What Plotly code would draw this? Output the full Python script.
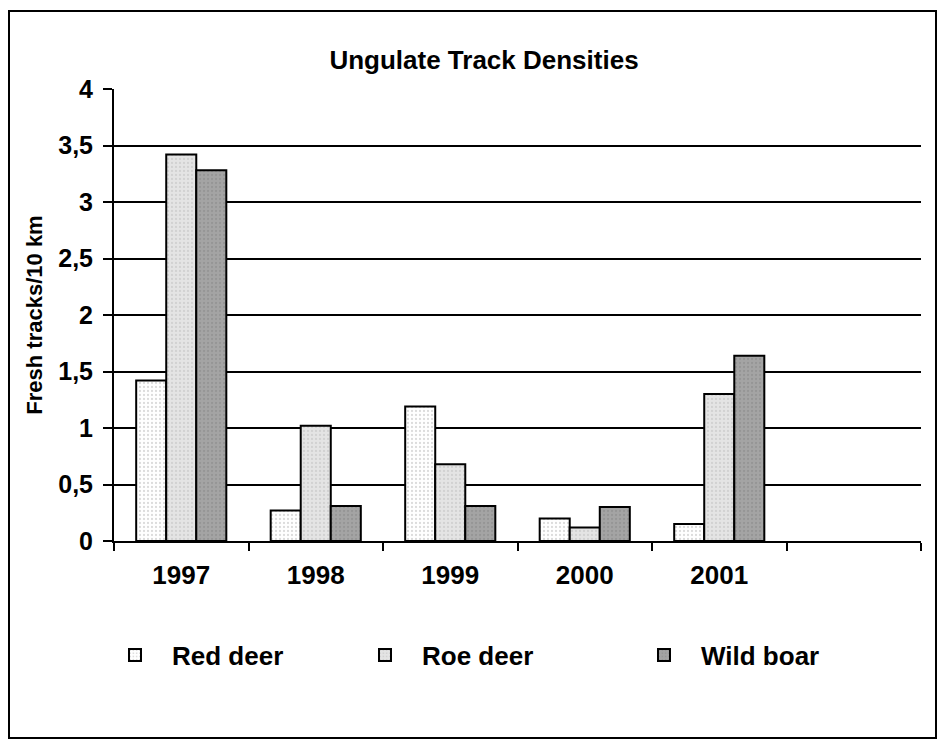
import plotly.graph_objects as go

# categories (last one is an empty slot on the axis)
years = ["1997", "1998", "1999", "2000", "2001"]
axis_cats = years + [" "]

red_deer = [1.42, 0.27, 1.19, 0.20, 0.15]
roe_deer = [3.42, 1.02, 0.68, 0.12, 1.30]
wild_boar = [3.28, 0.31, 0.31, 0.30, 1.64]

series = [
    ("Red deer", red_deer, "#ffffff", "#b8b8b8", "legend"),
    ("Roe deer", roe_deer, "#e4e4e4", "#bdbdbd", "legend2"),
    ("Wild boar", wild_boar, "#a4a4a4", "#858585", "legend3"),
]

FONT = "Liberation Sans, Arial, sans-serif"
OFF = 8  # page body margin

fig = go.Figure()
for name, vals, bg, fg, leg in series:
    fig.add_trace(go.Bar(
        x=years, y=vals, name=name, legend=leg,
        marker=dict(color=bg,
                    line=dict(color="black", width=2),
                    pattern=dict(shape=".", bgcolor=bg, fgcolor=fg,
                                 size=4, solidity=0.25)),
    ))

# plot area edges in page px
L, R, T, B = 114, 921, 89, 541
W, H = 947, 747
def px(xp):
    return (xp - L) / (R - L)
def py(yp):
    return (B - yp) / (B - T)

legend_base = dict(orientation="h", yanchor="middle", y=py(655), xanchor="left",
                   itemwidth=64,
                   font=dict(family=FONT, size=26, weight="bold", color="black"),
                   bgcolor="rgba(0,0,0,0)")

fig.update_layout(
    width=W - OFF, height=H - OFF,
    margin=dict(l=L - OFF, r=W - R, t=T - OFF, b=H - B),
    paper_bgcolor="white", plot_bgcolor="white",
    separators=", ",
    showlegend=True,
    barmode="group", bargap=0.33, bargroupgap=0,
    font=dict(family=FONT, color="black"),
    title=dict(text="Ungulate Track Densities", x=(484 - OFF) / (W - OFF), xref="container",
               xanchor="center", y=1 - (60 - OFF) / (H - OFF), yref="container",
               yanchor="middle",
               font=dict(family=FONT, size=26, weight="bold", color="black")),
    legend=dict(legend_base, x=px(98)),
    legend2=dict(legend_base, x=px(348)),
    legend3=dict(legend_base, x=px(627)),
    xaxis=dict(type="category", categoryorder="array", categoryarray=axis_cats,
               range=[-0.5, 5.5], showgrid=False, showline=True, linecolor="black",
               linewidth=2, ticks="outside", tickson="boundaries", ticklen=8,
               tickwidth=2, tickcolor="black", ticklabelstandoff=10,
               tickfont=dict(family=FONT, size=26, weight="bold", color="black")),
    yaxis=dict(range=[0, 4], dtick=0.5, showgrid=True, gridcolor="black", gridwidth=2,
               zeroline=False, showline=True, linecolor="black", linewidth=2,
               ticks="outside", ticklen=9, tickwidth=2, tickcolor="black",
               ticklabelstandoff=5,
               tickfont=dict(family=FONT, size=25, weight="bold", color="black"),
               title=dict(text="Fresh tracks/10 km", standoff=10,
                          font=dict(family=FONT, size=22, weight="bold", color="black"))),
    shapes=[dict(type="rect", xref="paper", yref="paper",
                 x0=px(9), x1=px(936), y0=py(738), y1=py(11),
                 line=dict(color="black", width=2), layer="below")],
)

fig.write_html("out.html")
